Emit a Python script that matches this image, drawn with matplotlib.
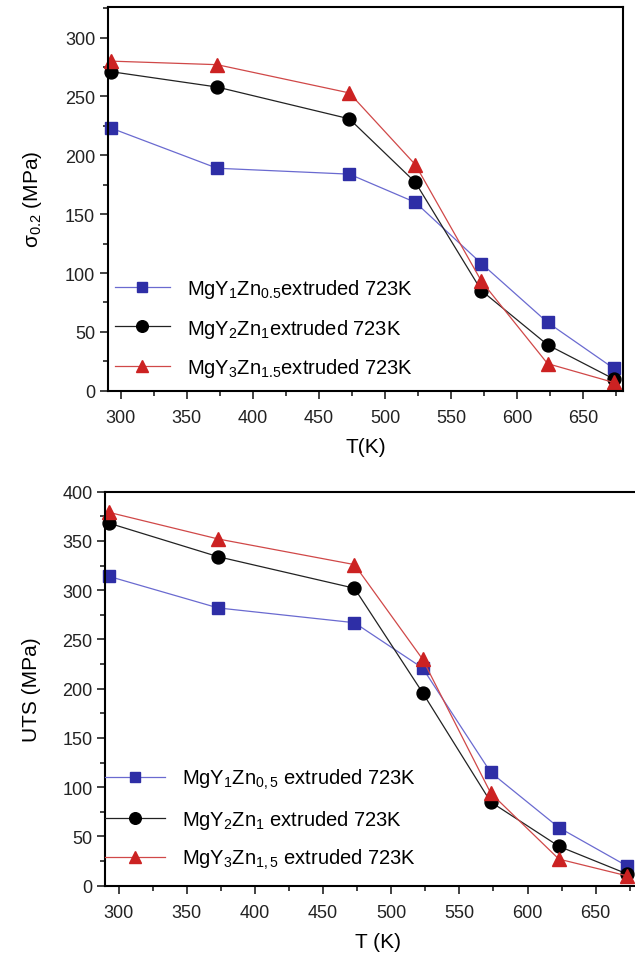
import matplotlib
matplotlib.use("Agg")
import matplotlib.pyplot as plt
from matplotlib.ticker import MultipleLocator

plt.rcParams['font.family'] = ['Liberation Sans', 'DejaVu Sans']
plt.rcParams['mathtext.fontset'] = 'custom'
plt.rcParams['mathtext.rm'] = 'Liberation Sans'
plt.rcParams['mathtext.it'] = 'Liberation Sans'
plt.rcParams['mathtext.bf'] = 'Liberation Sans:bold'
plt.rcParams['mathtext.default'] = 'regular'

# ---- data ----
temps = [293, 373, 473, 523, 573, 623, 673]

ys_y1zn05 = [223, 189, 184, 160, 108, 58, 19]
ys_y2zn1 = [271, 258, 231, 177, 85, 39, 10]
ys_y3zn15 = [280, 277, 253, 192, 93, 23, 7]

uts_y1zn05 = [314, 282, 267, 221, 115, 59, 20]
uts_y2zn1 = [368, 334, 302, 196, 85, 40, 12]
uts_y3zn15 = [379, 352, 326, 230, 94, 27, 10]

labels_top = [r'MgY$_1$Zn$_{0.5}$extruded 723K',
              r'MgY$_2$Zn$_1$extruded 723K',
              r'MgY$_3$Zn$_{1.5}$extruded 723K']
labels_bot = [r'MgY$_1$Zn$_{0,5}$ extruded 723K',
              r'MgY$_2$Zn$_1$ extruded 723K',
              r'MgY$_3$Zn$_{1,5}$ extruded 723K']

W, H = 635, 954
fig = plt.figure(figsize=(W / 100, H / 100), dpi=100)

def px_axes(l, t, r, b):
    return fig.add_axes([l / W, 1 - b / H, (r - l) / W, (b - t) / H])

styles = [
    dict(marker='s', color='#6a6ad0', mfc='#2e2ea6', mec='#2e2ea6', ms=8.7),
    dict(marker='o', color='#222222', mfc='#000000', mec='#000000', ms=9.3),
    dict(marker='^', color='#d04848', mfc='#cc2222', mec='#cc2222', ms=10),
]

def style_axes(ax):
    for s in ax.spines.values():
        s.set_linewidth(1.5)
    ax.xaxis.set_major_locator(MultipleLocator(50))
    ax.xaxis.set_minor_locator(MultipleLocator(25))
    ax.yaxis.set_major_locator(MultipleLocator(50))
    ax.yaxis.set_minor_locator(MultipleLocator(25))
    ax.tick_params(which='both', direction='out', top=False, right=False,
                   width=1.2, labelsize=13, colors='#222222')
    ax.tick_params(which='major', length=6, pad=3)
    ax.tick_params(axis='x', which='major', pad=7)
    ax.tick_params(which='minor', length=3.5)

# ---- top panel ----
ax1 = px_axes(107.7, 8, 623.3, 391.7)
for ys, st, lab in zip([ys_y1zn05, ys_y2zn1, ys_y3zn15], styles, labels_top):
    ax1.plot(temps, ys, lw=0.9, label=lab, clip_on=False, **st)
ax1.set_xlim(290.2, 680.3)
ax1.set_ylim(0, 326)
style_axes(ax1)
ax1.set_xlabel('T(K)', fontsize=15, labelpad=8)
ax1.set_ylabel(r'σ$_{0.2}$ (MPa)', fontsize=15, labelpad=15)
ax1.legend(loc='upper left', bbox_to_anchor=(115 / W, 1 - 278 / H),
           bbox_transform=fig.transFigure, frameon=False, fontsize=14.5,
           handlelength=2.73, handletextpad=0.83, labelspacing=0.82,
           borderpad=0, borderaxespad=0, markerscale=0.9)

# ---- bottom panel ----
ax2 = px_axes(105, 492.7, 650.2, 886.7)
for ys, st, lab in zip([uts_y1zn05, uts_y2zn1, uts_y3zn15], styles, labels_bot):
    ax2.plot(temps, ys, lw=0.9, label=lab, clip_on=False, **st)
ax2.set_xlim(290, 690)
ax2.set_ylim(0, 400)
style_axes(ax2)
ax2.set_xlabel('T (K)', fontsize=15, labelpad=8)
ax2.set_ylabel('UTS (MPa)', fontsize=15, labelpad=15)
ax2.legend(loc='upper left', bbox_to_anchor=(105 / W, 1 - 768 / H),
           bbox_transform=fig.transFigure, frameon=False, fontsize=14.5,
           handlelength=2.98, handletextpad=0.83, labelspacing=0.82,
           borderpad=0, borderaxespad=0, markerscale=0.9)

fig.savefig('out.png', dpi=100)
